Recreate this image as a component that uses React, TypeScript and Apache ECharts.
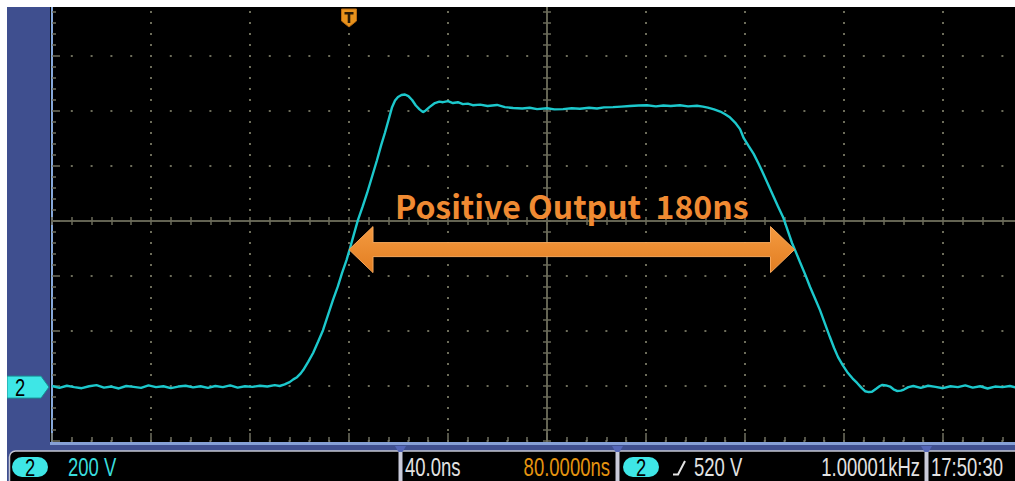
import React, { useEffect, useRef } from "react";
import * as echarts from "echarts";

// ---- data (time in ns, trigger at 0; voltage in V) ----
const traceTimes = [
  -120, -117, -114, -111, -108, -105, -102, -99, -96, -93, -90, -87, -84, -81, -78, -75, -72, -69, -66, -63,
  -60, -57, -54, -51, -48, -45, -42, -39, -36, -33, -30, -28, -26, -24, -22.5, -21, -19.5, -18.5, -16.5, -14.5,
  -12.5, -10.5, -8.5, -6.5, -4.5, -2.8, -1, 0.4, 2, 3.6, 5.5, 7.3, 9.3, 11.3, 13, 14.5, 16, 17.4, 18.6, 19.8,
  21.2, 22.6, 24, 25.5, 27, 28.5, 29.9, 31, 32.5, 34.7, 36.5, 38, 40, 42, 44, 46, 48, 50, 53, 56,
  59.8, 63, 66.3, 70, 73, 76, 80, 83, 86.5, 90, 93.3, 97, 100.2, 103, 106.7, 110, 113.5, 117, 120.4, 124,
  127, 130, 133.7, 137, 140.6, 143, 145, 147.5, 150, 152, 154, 156, 158, 159.5, 161.5, 163.5, 165.5, 167.3, 169.3, 171.3,
  173.3, 175.4, 177.2, 179, 180.6, 182.2, 184.3, 186.3, 188.3, 190.3, 192.3, 194.3, 196, 197.6, 199.6, 201.6, 203.5, 205.3, 207, 208.5,
  210, 211.3, 213, 214.5, 215.5, 217, 218.6, 220, 221.4, 223, 224.2, 226, 228, 231, 234, 237, 240, 243, 246, 249,
  252, 255, 258, 261, 264, 267, 270, 273, 276, 280,
];
const traceVolts = [
  4, -3, 5, 0, -4, 3, 7, -2, 2, -5, 4, 1, -3, 6, 0, 3, -4, 2, 5, -1,
  3, -3, 4, 0, 6, -2, 3, 1, 5, 2, 7, 4, 10, 18, 28, 36, 50, 62, 92, 124,
  165, 207, 262, 316, 366, 415, 462, 505, 556, 607, 656, 705, 765, 825, 880, 924, 972, 1018, 1042, 1055,
  1062, 1064, 1058, 1044, 1024, 1010, 1000, 1006, 1018, 1033, 1038, 1036, 1040, 1033, 1036, 1029, 1031, 1025, 1027, 1022,
  1026, 1018, 1015, 1013, 1016, 1011, 1014, 1010, 1011, 1014, 1012, 1016, 1013, 1017, 1018, 1020, 1022, 1024, 1025, 1021,
  1024, 1022, 1025, 1021, 1023, 1020, 1016, 1010, 1002, 992, 980, 962, 938, 905, 876, 848, 812, 778, 738, 698,
  658, 618, 571, 524, 490, 455, 410, 364, 322, 280, 231, 182, 142, 109, 78, 51, 31, 15, -2, -15,
  -18, -17, -6, 4, 8, 6, 2, -8, -14, -13, -9, 0, 4, -3, 5, 1, -4, 3, 0, 6,
  -2, 3, -5, 2, 0, 4, -3, 2, 5, 0,
];

// axis ranges
const timeMin = -120;
const timeMax = 280;
const voltMin = -196;
const voltMax = 1404;
const xDivs = [-5, 5];
const yDivs = [-4, 4];

// annotation
const arrowStart = 0;
const arrowEnd = 180;
const arrowLevel = 500;
const annotationText = "Positive Output  180ns";

// status bar texts
const channelName = "2";
const voltsPerDiv = "200 V";
const timePerDiv = "40.0ns";
const horizPosition = "80.0000ns";
const triggerLevel = "520 V";
const triggerFreq = "1.00001kHz";
const clockText = "17:50:30";

const NARROW = "'Liberation Sans', 'DejaVu Sans', sans-serif";
const DOT = "#6d6d5a";
const CROSS = "#6a6a58";
const EDGE_TICK = "#707060";
const CYAN = "#1CC8CC";
const PILL = "#3EE6E6";
const ORANGE = "#F08A32";

export default function App() {
  const ref = useRef<HTMLDivElement>(null);

  useEffect(() => {
    if (!ref.current) return;
    const chart = echarts.init(ref.current, null, { renderer: "svg" });
    const trace = traceTimes.map((t, i) => [t, traceVolts[i]]);

    const hiddenLabel = { show: false };
    const tickAxisX = (offset: number, inside: boolean, len: number, minorLen: number, color: string) => ({
      type: "value",
      min: xDivs[0],
      max: xDivs[1],
      interval: 1,
      position: "bottom",
      offset,
      axisLine: { show: offset !== 0, onZero: false, lineStyle: { color, width: 1.5 } },
      axisTick: { show: true, inside, length: len, lineStyle: { color, width: 1.5 } },
      minorTick: { show: true, splitNumber: 5, length: minorLen, lineStyle: { color, width: 1.5 } },
      axisLabel: hiddenLabel,
      splitLine: { show: false },
    });
    const tickAxisY = (offset: number, inside: boolean, len: number, minorLen: number, color: string, lineColor?: string) => ({
      type: "value",
      min: yDivs[0],
      max: yDivs[1],
      interval: 1,
      position: "left",
      offset,
      axisLine: { show: true, onZero: false, lineStyle: { color: lineColor || color, width: lineColor ? 2 : 1.5 } },
      axisTick: { show: true, inside, length: len, lineStyle: { color, width: 1.5 } },
      minorTick: { show: true, splitNumber: 5, length: minorLen, lineStyle: { color, width: 1.5 } },
      axisLabel: hiddenLabel,
      splitLine: { show: false },
    });

    chart.setOption({
      animation: false,
      backgroundColor: "#000000",
      grid: { left: 52, top: 1, width: 990, height: 440, containLabel: false },
      xAxis: [
        { type: "value", min: timeMin, max: timeMax, show: false, axisLine: { onZero: false } },
        {
          type: "value",
          min: xDivs[0],
          max: xDivs[1],
          interval: 1,
          axisLine: { show: false, onZero: false },
          axisTick: { show: false },
          axisLabel: hiddenLabel,
          splitLine: { show: true, lineStyle: { color: DOT, width: 2, type: [2, 9], dashOffset: 1 } },
        },
        tickAxisX(-220, false, 4, 4, CROSS),
        tickAxisX(-220, true, 4, 4, CROSS),
        tickAxisX(0, true, 8, 4, EDGE_TICK),
      ],
      yAxis: [
        { type: "value", min: voltMin, max: voltMax, show: false, axisLine: { onZero: false } },
        {
          type: "value",
          min: yDivs[0],
          max: yDivs[1],
          interval: 1,
          axisLine: { show: false, onZero: false },
          axisTick: { show: false },
          axisLabel: hiddenLabel,
          splitLine: { show: true, lineStyle: { color: DOT, width: 2, type: [2, 17.8], dashOffset: 1 } },
        },
        tickAxisY(-495, false, 4, 4, CROSS),
        tickAxisY(-495, true, 4, 4, CROSS),
        tickAxisY(0, true, 8, 4, EDGE_TICK, "#86A8DA"),
      ],
      series: [
        {
          type: "line",
          xAxisIndex: 0,
          yAxisIndex: 0,
          data: trace,
          showSymbol: false,
          symbol: "none",
          lineStyle: { color: CYAN, width: 2.4 },
          z: 5,
        },
        {
          type: "custom",
          xAxisIndex: 0,
          yAxisIndex: 0,
          z: 10,
          data: [[arrowStart, arrowLevel, arrowEnd]],
          renderItem: (_params: any, api: any) => {
            const p0 = api.coord([api.value(0), api.value(1)]);
            const p1 = api.coord([api.value(2), api.value(1)]);
            const y = p0[1];
            const hl = 24;
            const hh = 23;
            const sh = 7;
            const pts = [
              [p0[0], y],
              [p0[0] + hl, y - hh],
              [p0[0] + hl, y - sh],
              [p1[0] - hl, y - sh],
              [p1[0] - hl, y - hh],
              [p1[0], y],
              [p1[0] - hl, y + hh],
              [p1[0] - hl, y + sh],
              [p0[0] + hl, y + sh],
              [p0[0] + hl, y + hh],
            ];
            return {
              type: "group",
              children: [
                {
                  type: "polygon",
                  shape: { points: pts },
                  style: {
                    fill: new echarts.graphic.LinearGradient(0, 0, 0, 1, [
                      { offset: 0, color: "#F49A40" },
                      { offset: 1, color: "#E27E22" },
                    ]),
                    stroke: "#F7A75A",
                    lineWidth: 1,
                  },
                },
                {
                  type: "text",
                  style: {
                    text: annotationText,
                    x: (p0[0] + p1[0]) / 2,
                    y: y - 45,
                    align: "center",
                    verticalAlign: "middle",
                    textAlign: "center",
                    textVerticalAlign: "middle",
                    fill: ORANGE,
                    fontSize: 32,
                    fontWeight: "bold",
                    fontFamily: "'Noto Sans CJK JP', 'Noto Sans', sans-serif",
                  },
                },
              ],
            };
          },
        },
      ],
    });

    const origin = chart.convertToPixel({ seriesIndex: 0 }, [0, 0]) as number[];
    const tx = origin[0];
    const gy = origin[1];

    // condensed scope-style text: horizontally squeezed
    const txt = (text: string, x: number, y: number, fill: string, align: string, size = 25, sx = 0.74) => ({
      type: "text",
      z: 150,
      x,
      y,
      scaleX: sx,
      style: {
        text,
        x: 0,
        y: 0,
        fill,
        align,
        textAlign: align,
        verticalAlign: "middle",
        textVerticalAlign: "middle",
        fontSize: size,
        fontFamily: NARROW,
      },
    });
    const divider = (x: number) => [
      { type: "rect", z: 121, shape: { x: x - 1.5, y: 450, width: 4, height: 31 }, style: { fill: "#C9CBDA" } },
      {
        type: "polygon",
        z: 122,
        shape: { points: [[x - 5, 446], [x + 6, 446], [x + 2.5, 452], [x - 1.5, 452]] },
        style: { fill: "#5567B8" },
      },
    ];
    const pill = (x: number) => [
      {
        type: "rect",
        z: 121,
        shape: { x, y: 457, width: 36, height: 20, r: 10 },
        style: { fill: PILL },
      },
      txt(channelName, x + 18, 468, "#000000", "center", 23, 0.8),
    ];

    chart.setOption({
      graphic: [
        // left blue panel
        { type: "rect", z: 90, shape: { x: 7, y: 7, width: 43, height: 474 }, style: { fill: "#3F4F8F" } },
        // bottom blue band
        { type: "rect", z: 90, shape: { x: 7, y: 442, width: 1010, height: 9 }, style: { fill: "#3F4F8F" } },
        { type: "rect", z: 91, shape: { x: 50, y: 442, width: 970, height: 3 }, style: { fill: "#86A0D6" } },
        // status box
        {
          type: "rect",
          z: 110,
          shape: { x: 9.5, y: 451, width: 1020, height: 40, r: 6 },
          style: { fill: "#000000", stroke: "#C4C6D2", lineWidth: 1.5 },
        },
        ...pill(12),
        txt(voltsPerDiv, 68, 467, "#3ADCDC", "left"),
        ...divider(400),
        txt(timePerDiv, 405, 467, "#E2E2E2", "left"),
        txt(horizPosition, 610, 467, "#E59410", "right"),
        ...divider(617),
        ...pill(623),
        {
          type: "polyline",
          z: 121,
          shape: { points: [[673, 474.5], [678, 474.5], [685, 461]] },
          style: { stroke: "#E2E2E2", lineWidth: 2, fill: "none" },
        },
        txt(triggerLevel, 694, 467, "#E2E2E2", "left"),
        txt(triggerFreq, 920, 467, "#E2E2E2", "right"),
        ...divider(926),
        txt(clockText, 931, 467, "#E2E2E2", "left"),
        // channel ground marker
        {
          type: "polygon",
          z: 130,
          shape: { points: [[7, gy - 11], [41, gy - 11], [49, gy], [41, gy + 11], [7, gy + 11]] },
          style: { fill: PILL, stroke: "#168E92", lineWidth: 1 },
        },
        txt(channelName, 20, gy + 1, "#000000", "center", 23, 0.8),
        // trigger position marker
        {
          type: "polygon",
          z: 130,
          shape: { points: [[tx - 7.5, 9], [tx + 7.5, 9], [tx + 7.5, 21], [tx, 27], [tx - 7.5, 21]] },
          style: { fill: "#E8921C", stroke: "#B96A10", lineWidth: 1 },
        },
        { type: "rect", z: 131, shape: { x: tx - 4.5, y: 12, width: 9, height: 2.5 }, style: { fill: "#2A1A06" } },
        { type: "rect", z: 131, shape: { x: tx - 1.3, y: 12, width: 2.6, height: 11 }, style: { fill: "#2A1A06" } },
        // white margins of the screenshot
        { type: "rect", z: 200, shape: { x: 0, y: 0, width: 1050, height: 7 }, style: { fill: "#FFFFFF" } },
        { type: "rect", z: 200, shape: { x: 0, y: 0, width: 7, height: 481 }, style: { fill: "#FFFFFF" } },
      ],
    });

    return () => chart.dispose();
  }, []);

  return (
    <div style={{ position: "fixed", left: 0, top: 0, width: 1015, height: 481, overflow: "hidden" }}>
      <div ref={ref} style={{ width: 1050, height: 481 }} />
    </div>
  );
}
